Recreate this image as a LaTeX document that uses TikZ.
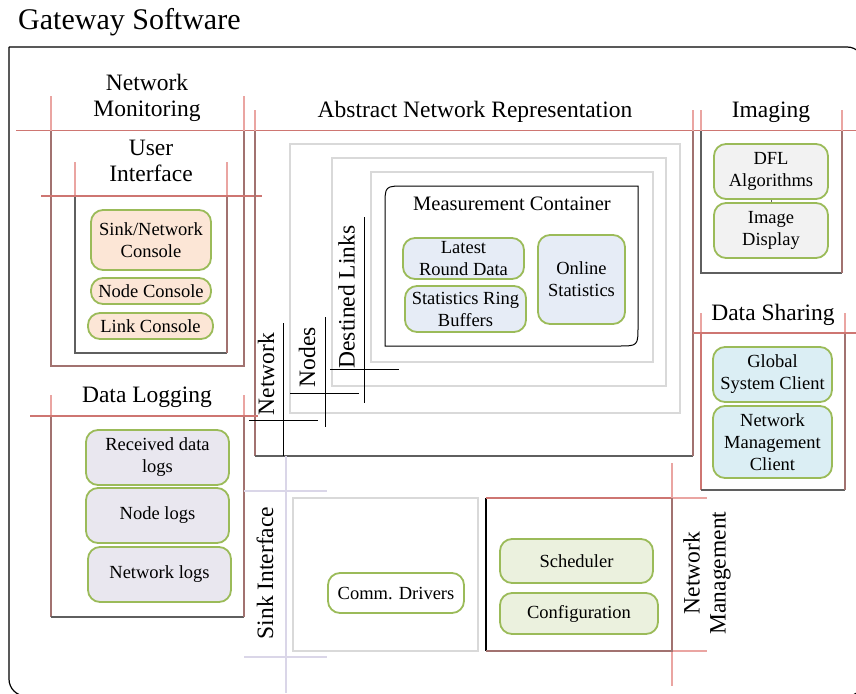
\documentclass[tikz,border=0pt]{standalone}
\usepackage{fontspec}
\setmainfont{Liberation Serif}
\definecolor{extred}{RGB}{234,165,162}
\definecolor{headred}{RGB}{206,118,114}
\definecolor{sidebrn}{RGB}{162,114,112}
\definecolor{darkln}{RGB}{95,95,95}
\definecolor{grayln}{RGB}{217,217,217}
\definecolor{lavln}{RGB}{218,214,232}
\definecolor{gborder}{RGB}{155,187,89}
\definecolor{fpeach}{RGB}{252,230,214}
\definecolor{fblue}{RGB}{230,236,246}
\definecolor{fgray}{RGB}{242,242,242}
\definecolor{fcyan}{RGB}{219,238,244}
\definecolor{flav}{RGB}{233,231,239}
\definecolor{fgreen}{RGB}{235,241,222}
\newcommand\bxfont{\fontsize{18.5}{22}\selectfont}
\newcommand\secfont{\fontsize{23.5}{26}\selectfont}
\begin{document}
\begin{tikzpicture}[x=1pt,y=-1pt,
  ln/.style={line width=1.2pt},
  gbox/.style={draw=gborder,line width=1.8pt,rounded corners=12pt,inner sep=0pt,align=center,font=\bxfont},
  sec/.style={font=\secfont,align=center,inner sep=0pt},
  crossln/.style={draw=black,line width=1pt},
  nest/.style={draw=grayln,line width=1.5pt}]
\path[use as bounding box] (0,0) rectangle (856,693);
\clip (0,0) rectangle (856,693);

% outer frame
\draw[ln,black,rounded corners=17pt] (9,47) -- (864,47) -- (864,696) -- (9,696) -- (9,47);
\node[anchor=base west,font=\fontsize{30}{33}\selectfont,inner sep=0pt] (title) at (18,30) {Gateway Software};

% common head line
\draw[ln,headred] (16,130.5) -- (856,130.5);

% Network Monitoring
\draw[ln,extred] (51,96) -- (51,130.5) (244,96) -- (244,130.5);
\draw[ln,sidebrn] (51,130.5) -- (51,366) -- (244,366) -- (244,130.5);
\node[sec] (netmon) at (147,97.5) {Network\\Monitoring};

% User Interface
\draw[ln,extred] (75,162) -- (75,196) (227,162) -- (227,196);
\draw[ln,darkln] (75,196) -- (75,353) -- (227,353);
\draw[ln,sidebrn] (227,353) -- (227,196);
\draw[ln,headred] (41,196) -- (262,196);
\node[sec] (ui) at (151,160.5) {User\\Interface};
\node[gbox,fill=fpeach,minimum width=120pt,minimum height=60pt] (sinkcon) at (151,240) {Sink/Network\\Console};
\node[gbox,fill=fpeach,minimum width=120pt,minimum height=26pt] (nodecon) at (151,291) {Node Console};
\node[gbox,fill=fpeach,minimum width=125pt,minimum height=26pt] (linkcon) at (150.5,326) {Link Console};

% Abstract Network Representation
\draw[ln,extred] (255,110) -- (255,130.5) (693,110) -- (693,130.5);
\draw[ln,sidebrn] (255,130.5) -- (255,456);
\draw[ln,darkln] (255,456) -- (693,456);
\draw[ln,sidebrn] (693,456) -- (693,130.5);
\node[sec,anchor=base] (anr) at (475,117) {Abstract Network Representation};
\draw[nest] (290,144) rectangle (680,413);
\draw[nest] (332,158) rectangle (666,386);
\draw[nest] (371,172) rectangle (653,362);
\draw[line width=1pt,black] (385,346) -- (385,206) .. controls (385,186) .. (405,186) -- (638,186) -- (638,326) .. controls (638,346) .. (618,346) -- cycle;
\node[font=\fontsize{20.5}{24}\selectfont,anchor=base,inner sep=0pt] (meas) at (512,210) {Measurement Container};
\node[gbox,fill=fblue,minimum width=121pt,minimum height=41pt] (latest) at (463.5,258.5) {Latest\\Round Data};
\node[gbox,fill=fblue,minimum width=121pt,minimum height=46pt] (ringbuf) at (465.5,309) {Statistics Ring\\Buffers};
\node[gbox,fill=fblue,minimum width=87pt,minimum height=89pt] (online) at (581.5,279.5) {Online\\Statistics};
\draw[crossln] (283,323) -- (283,456) (249,420) -- (318,420);
\draw[crossln] (325,317) -- (325,427) (290,393) -- (359,393);
\draw[crossln] (364,217) -- (364,403) (330,369) -- (399,369);
\node[sec,rotate=90] (lnet) at (266,374) {Network};
\node[sec,rotate=90] (lnodes) at (307,357) {Nodes};
\node[sec,rotate=90] (llinks) at (346.5,297) {Destined Links};

% Imaging
\draw[ln,extred] (701,110) -- (701,130.5) (842,110) -- (842,130.5);
\draw[ln,darkln] (701,130.5) -- (701,273) -- (842,273);
\draw[ln,sidebrn] (842,273) -- (842,130.5);
\node[sec,anchor=base] (imaging) at (771,117) {Imaging};
\node[gbox,fill=fgray,minimum width=114pt,minimum height=55pt] (dfl) at (771,171.5) {DFL\\Algorithms};
\node[gbox,fill=fgray,minimum width=114pt,minimum height=55pt] (imgdisp) at (771,230.5) {Image\\Display};
\draw[darkln,line width=1pt] (dfl.south) -- (imgdisp.north);

% Data Sharing
\draw[ln,extred] (701,313) -- (701,333) (845,313) -- (845,333);
\draw[ln,headred] (701,333) -- (701,490);
\draw[ln,darkln] (701,490) -- (845,490);
\draw[ln,sidebrn] (845,490) -- (845,333);
\draw[ln,headred] (693,333) -- (856,333);
\node[sec,anchor=base] (sharing) at (773,320) {Data Sharing};
\node[gbox,fill=fcyan,minimum width=119pt,minimum height=55pt] (global) at (772.5,374.5) {Global\\System Client};
\node[gbox,fill=fcyan,minimum width=119pt,minimum height=72pt] (nmclient) at (772.5,442) {Network\\Management\\Client};

% Data Logging
\draw[ln,extred] (51,395) -- (51,416) (244,395) -- (244,416);
\draw[ln,sidebrn] (51,416) -- (51,617);
\draw[ln,darkln] (51,617) -- (244,617);
\draw[ln,sidebrn] (244,617) -- (244,416);
\draw[ln,headred] (30,416) -- (258,416);
\node[sec,anchor=base] (logging) at (147,402) {Data Logging};
\node[gbox,fill=flav,minimum width=143pt,minimum height=55pt] (recv) at (157.5,457.5) {Received data\\logs};
\node[gbox,fill=flav,minimum width=143pt,minimum height=55pt] (nodelogs) at (157.5,515.5) {Node logs};
\node[gbox,fill=flav,minimum width=143pt,minimum height=55pt] (netlogs) at (159.5,574.5) {Network logs};

% Sink Interface
\draw[ln,lavln] (286,456) -- (286,693) (244,491) -- (327,491) (244,657) -- (327,657);
\draw[ln,grayln] (293,498) rectangle (478,651);
\node[sec,rotate=90] (sinkif) at (265,573) {Sink Interface};
\node[gbox,fill=white,minimum width=136pt,minimum height=40pt] (comm) at (396,593) {Comm. Drivers};

% Network Management
\draw[ln,black] (486,498) -- (486,651);
\draw[ln,headred] (486,498) -- (672,498);
\draw[ln,extred] (672,498) -- (707,498) (672,651) -- (707,651) (672,463) -- (672,498) (672,651) -- (672,686);
\draw[ln,sidebrn] (486,651) -- (672,651) -- (672,498);
\node[sec,rotate=90] (netmgmt) at (707,573) {Network\\Management};
\node[gbox,fill=fgreen,minimum width=153pt,minimum height=44pt] (sched) at (576.5,561) {Scheduler};
\node[gbox,fill=fgreen,minimum width=158pt,minimum height=41pt] (config) at (579,613.5) {Configuration};
\end{tikzpicture}
\end{document}
